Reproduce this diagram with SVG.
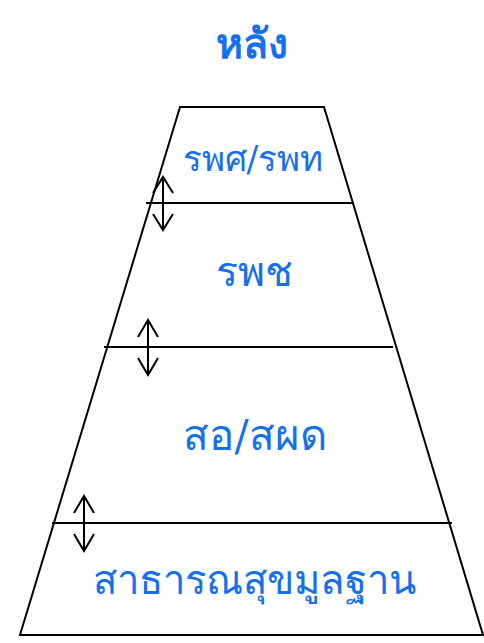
<svg xmlns="http://www.w3.org/2000/svg" width="484" height="643" viewBox="0 0 484 643">
<style>
.ln{stroke:#000;stroke-width:2;fill:none}
.ar{stroke:#000;stroke-width:2;fill:none}
.t{fill:#1570ef;font-family:"DejaVu Serif",serif;text-anchor:middle}
</style>
<rect width="484" height="643" fill="#fff"/>
<g id="pyramid">
<path class="ln" d="M180,107 L324,107 L483,635 L20,635 Z"/>
</g>
<g id="title"><text class="t" x="252" y="58" font-size="41" font-weight="bold">หลัง</text></g>
<g id="level1"><text class="t" x="253" y="171" font-size="35">รพศ/รพท</text></g>
<g id="level2"><text class="t" x="254" y="286" font-size="41">รพช</text></g>
<g id="level3"><text class="t" x="255" y="450" font-size="42">สอ/สผด</text></g>
<g id="level4"><text class="t" x="254" y="594" font-size="40">สาธารณสุขมูลฐาน</text></g>
<g id="connectors">
<line class="ln" x1="146" y1="203" x2="354" y2="203"/>
<line class="ln" x1="104" y1="347" x2="393" y2="347"/>
<line class="ln" x1="52" y1="523" x2="452" y2="523"/>
<path class="ar" d="M163,177 L163,230 M153,193 L163,177 L173,193 M153,214 L163,230 L173,214"/>
<path class="ar" d="M148,320 L148,375 M138,337 L148,320 L158,337 M138,358 L148,375 L158,358"/>
<path class="ar" d="M84,496 L84,551 M74,513 L84,496 L94,513 M74,534 L84,551 L94,534"/>
</g>
</svg>
